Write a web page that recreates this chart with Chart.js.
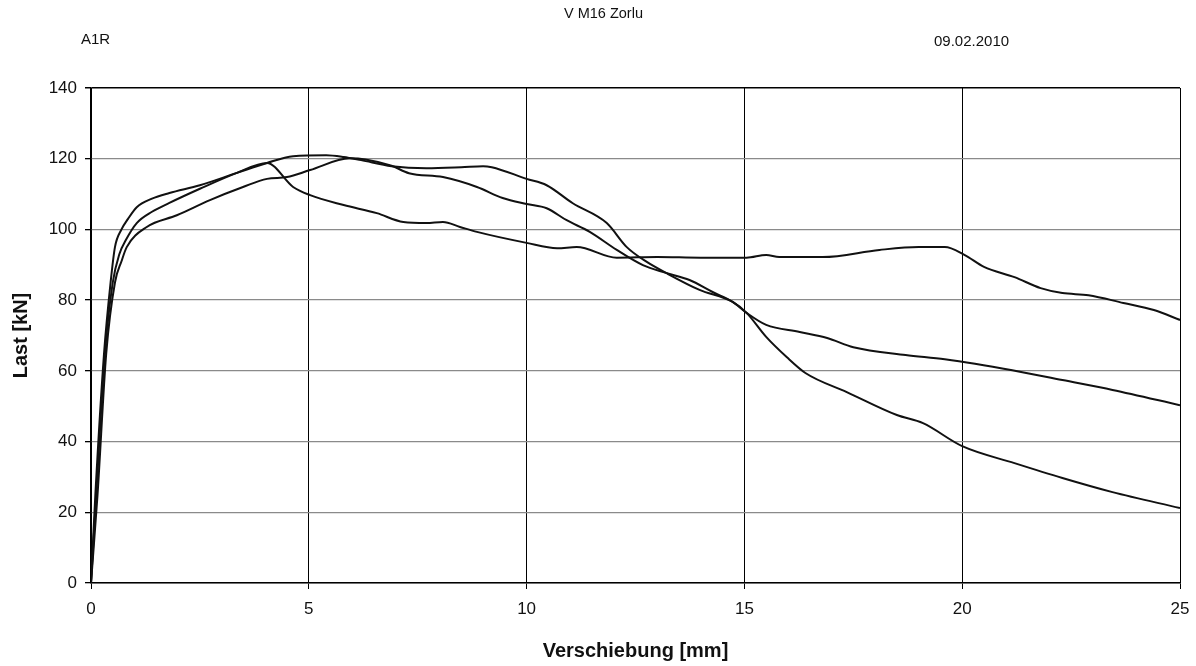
<!DOCTYPE html>
<html>
<head>
<meta charset="utf-8">
<script src="https://cdn.jsdelivr.net/npm/chart.js@4"></script>
<style>
  html, body { margin: 0; padding: 0; background: #fff; }
  #wrap { position: relative; width: 1196px; height: 666px; font-family: 'Liberation Sans', Arial, sans-serif; color: #111; }
  #wrap canvas { position: absolute; left: 0; top: 0; }
  .hdr { position: absolute; font-size: 14px; white-space: nowrap; }
</style>
</head>
<body>
<div id="wrap">
  <canvas id="chart" width="1196" height="666"></canvas>
  <div class="hdr" style="left:564px; top:5px; font-size:14.5px;">V M16 Zorlu</div>
  <div class="hdr" style="left:81px; top:30px; font-size:15px;">A1R</div>
  <div class="hdr" style="left:934px; top:32px; font-size:15px;">09.02.2010</div>
</div>
<script>
/* Load-displacement curves, three specimens. */

const xTicks = [0, 5, 10, 15, 20, 25];
const yTicks = [0, 20, 40, 60, 80, 100, 120, 140];

// specimen 1: early peak at ~4 mm, then plateau ~92-95 kN
const s1x = [0, 0.12, 0.32, 0.5, 0.65, 0.8, 1.05, 1.4, 1.8, 2.5, 3.35, 4.04, 4.64, 5.03, 5.8, 6.56, 7.17, 7.7, 8.08, 8.47, 8.86, 10, 10.7, 11.15, 12.07, 13, 14, 15.05, 15.5, 15.8, 16.8, 18.1, 19.0, 19.6, 20.05, 20.5, 21.2, 21.8, 22.3, 22.9, 23.7, 24.4, 25];
const s1y = [0, 25, 65, 85, 93, 97, 101.8, 105, 107.5, 111.5, 116, 118.8, 112, 109.7, 106.9, 104.6, 102.1, 101.8, 102.1, 100.7, 99.3, 96.2, 94.7, 95, 92, 92.2, 92, 92, 92.8, 92.2, 92.2, 94.2, 95, 95, 92.8, 89.4, 86.5, 83.4, 82, 81.4, 79.2, 77.2, 74.4];

// specimen 2: peak ~121 kN at ~5.4 mm, ends lowest
const s2x = [0, 0.1, 0.3, 0.45, 0.55, 0.7, 0.85, 1.05, 1.4, 1.8, 2.5, 3.35, 4.04, 4.64, 5.4, 5.8, 6.2, 6.9, 7.7, 8.5, 9.0, 9.2, 10.0, 10.46, 11.06, 11.84, 12.3, 12.76, 13.2, 13.97, 14.73, 15.05, 15.5, 15.97, 16.4, 17.35, 18.5, 19.1, 20, 21.2, 22.3, 23.45, 25];
const s2y = [0, 25, 65, 85, 95, 100, 103, 106.3, 108.7, 110.3, 112.5, 116, 118.8, 120.7, 121, 120.5, 119.6, 117.9, 117.3, 117.6, 117.9, 117.6, 114.3, 112.5, 107.4, 101.8, 95, 90.8, 87.7, 82.9, 79.5, 76.4, 69.6, 63.9, 59.4, 54, 47.5, 45.2, 38.7, 33.9, 29.7, 25.7, 21.2];

// specimen 3: slower rise, peak ~120 kN at ~6 mm, ends ~50 kN
const s3x = [0, 0.15, 0.35, 0.55, 0.7, 0.82, 1.28, 1.97, 2.73, 3.49, 4.04, 4.5, 5.03, 5.94, 6.3, 6.9, 7.3, 8.08, 8.86, 9.45, 10, 10.46, 10.92, 11.45, 12.07, 12.67, 13.2, 13.74, 14.27, 14.73, 15.05, 15.5, 16.27, 16.9, 17.5, 18.7, 19.6, 21.15, 22.3, 23.45, 25];
const s3y = [0, 25, 65, 85, 91, 95, 100.7, 104, 108.3, 112, 114.3, 114.8, 116.8, 120.1, 119.8, 118, 115.9, 114.8, 112, 108.9, 107.2, 106, 102.6, 99.3, 94.2, 89.9, 87.7, 85.7, 82.3, 79.5, 76.4, 73, 71, 69.3, 66.7, 64.5, 63.3, 60.2, 57.4, 54.6, 50.3];

const FONT = "'Liberation Sans', Arial, sans-serif";

function pts(xs, ys) {
  return xs.map((x, i) => ({ x, y: ys[i] }));
}

function series(xs, ys) {
  return {
    data: pts(xs, ys),
    borderColor: '#111', borderWidth: 2,
    pointRadius: 0, cubicInterpolationMode: 'monotone', fill: false,
  };
}

new Chart(document.getElementById('chart'), {
  type: 'line',
  data: {
    datasets: [series(s1x, s1y), series(s2x, s2y), series(s3x, s3y)],
  },
  options: {
    responsive: false,
    animation: false,
    layout: { padding: { left: 0, right: 16, top: 88, bottom: 0 } },
    plugins: { legend: { display: false }, tooltip: { enabled: false } },
    scales: {
      x: {
        type: 'linear', min: 0, max: 25,
        afterBuildTicks: (s) => { s.ticks = xTicks.map((v) => ({ value: v })); },
        // fixed box so the plot area matches the scan; labels may overhang
        afterFit: (s) => { s.height = 83; s.paddingLeft = 0; s.paddingRight = 0; },
        border: { color: '#000', width: 1.5 },
        grid: { color: '#000', lineWidth: 1, tickLength: 6, tickColor: '#000' },
        ticks: { color: '#111', font: { family: FONT, size: 17 }, padding: 10 },
        title: {
          display: true, text: 'Verschiebung [mm]', color: '#111',
          font: { family: FONT, size: 20, weight: 'bold' }, padding: { top: 0, bottom: 3 },
        },
      },
      y: {
        type: 'linear', min: 0, max: 140,
        afterBuildTicks: (s) => { s.ticks = yTicks.map((v) => ({ value: v })); },
        afterFit: (s) => { s.width = 91; s.paddingTop = 0; s.paddingBottom = 0; },
        border: { color: '#000', width: 1.5 },
        grid: {
          color: (c) => (c.tick && c.tick.value === 140 ? '#000' : '#8a8a8a'),
          lineWidth: (c) => (c.tick && c.tick.value === 140 ? 1.5 : 1.3),
          tickLength: 6, tickColor: '#000',
        },
        ticks: { color: '#111', font: { family: FONT, size: 17 }, padding: 8 },
        title: {
          display: true, text: 'Last [kN]', color: '#111',
          font: { family: FONT, size: 20, weight: 'bold' }, padding: { top: 9, bottom: 0 },
        },
      },
    },
  },
});
</script>
</body>
</html>
